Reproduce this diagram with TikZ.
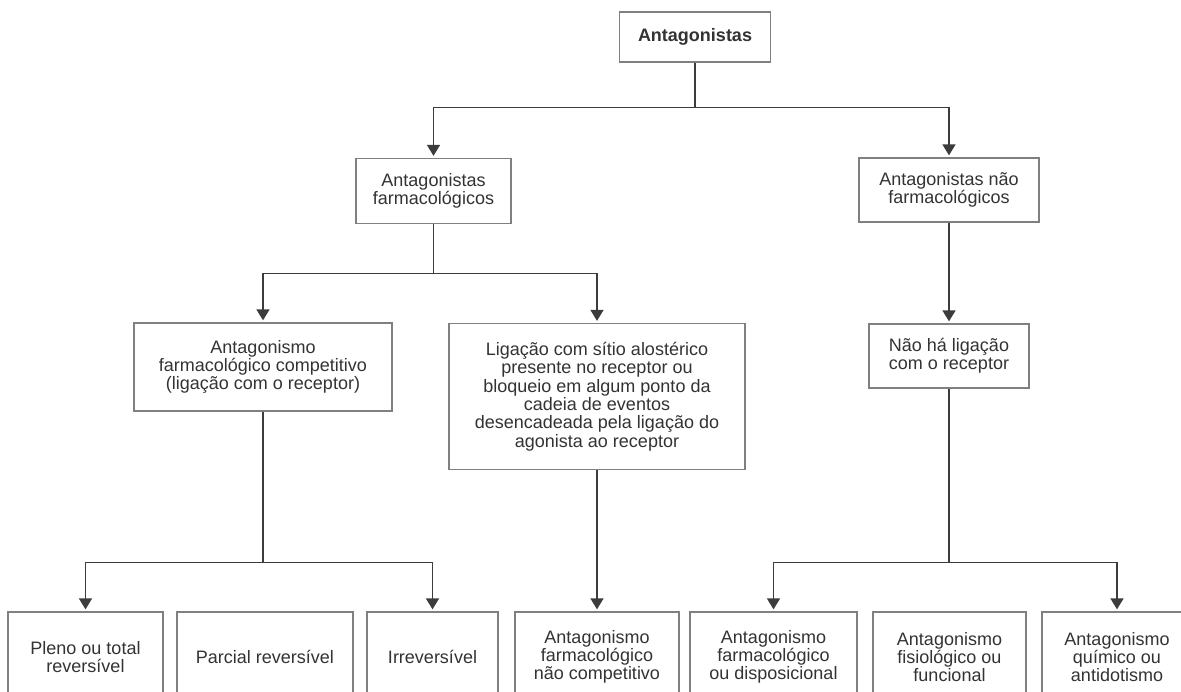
\documentclass[tikz,border=0pt]{standalone}
\usepackage{fontspec}
\setmainfont{Liberation Sans}
\usetikzlibrary{arrows.meta}
\definecolor{txt}{HTML}{333333}
\definecolor{boxc}{HTML}{808080}
\definecolor{linec}{HTML}{3C3C3C}
\tikzset{
  box/.style={draw=boxc, line width=1.3pt, fill=white, text=txt, align=center, inner sep=0pt,
    font=\fontsize{18}{18.3}\selectfont},
  conn/.style={draw=linec, line width=1.6pt},
  arr/.style={conn, -{Triangle[width=13pt,length=11pt]}, shorten >=2pt},
}
\begin{document}
\begin{tikzpicture}[x=1pt,y=-1pt]
\useasboundingbox (0,0) rectangle (1181,692);
% nodes
\node[box, minimum width=151, minimum height=50, font=\fontsize{18}{18.3}\selectfont\bfseries] (top) at (695,37) {Antagonistas};
\node[box, minimum width=155, minimum height=65] (farm) at (433.5,191) {Antagonistas\\farmacológicos};
\node[box, minimum width=180, minimum height=64] (nfarm) at (949,190) {Antagonistas não\\farmacológicos};
\node[box, minimum width=258, minimum height=88] (comp) at (263,367) {Antagonismo\\farmacológico competitivo\\(ligação com o receptor)};
\node[box, minimum width=296, minimum height=146] (lig) at (597,396.5) {Ligação com sítio alostérico\\presente no receptor ou\\bloqueio em algum ponto da\\cadeia de eventos\\desencadeada pela ligação do\\agonista ao receptor};
\node[box, minimum width=160, minimum height=64] (nlig) at (949,356) {Não há ligação\\com o receptor};
\node[box, minimum width=155, minimum height=90] (b1) at (85.5,657) {Pleno ou total\\reversível};
\node[box, minimum width=176, minimum height=90] (b2) at (265,657) {Parcial reversível};
\node[box, minimum width=131, minimum height=90] (b3) at (432.5,657) {Irreversível};
\node[box, minimum width=164, minimum height=90] (b4) at (597,657) {Antagonismo\\farmacológico\\não competitivo};
\node[box, minimum width=167, minimum height=90] (b5) at (773.5,657) {Antagonismo\\farmacológico\\ou disposicional};
\node[box, minimum width=153, minimum height=90] (b6) at (949.5,657) {Antagonismo\\fisiológico ou\\funcional};
\node[box, minimum width=150, minimum height=90] (b7) at (1117,657) {Antagonismo\\químico ou\\antidotismo};
% connectors
\draw[conn] (top.south) -- ++(0,45) coordinate (j1);
\draw[arr] (j1) -| (farm.north);
\draw[arr] (j1) -| (nfarm.north);
\draw[conn] (farm.south) -- ++(0,49.5) coordinate (j2);
\draw[arr] (j2) -| (comp.north);
\draw[arr] (j2) -| (lig.north);
\draw[arr] (nfarm.south) -- (nlig.north);
\draw[conn] (comp.south) -- ++(0,151) coordinate (j3);
\draw[arr] (j3) -| (b1.north);
\draw[arr] (j3) -| (b3.north);
\draw[arr] (lig.south) -- (b4.north);
\draw[conn] (nlig.south) -- ++(0,174) coordinate (j4);
\draw[arr] (j4) -| (b5.north);
\draw[arr] (j4) -| (b7.north);
\end{tikzpicture}
\end{document}
